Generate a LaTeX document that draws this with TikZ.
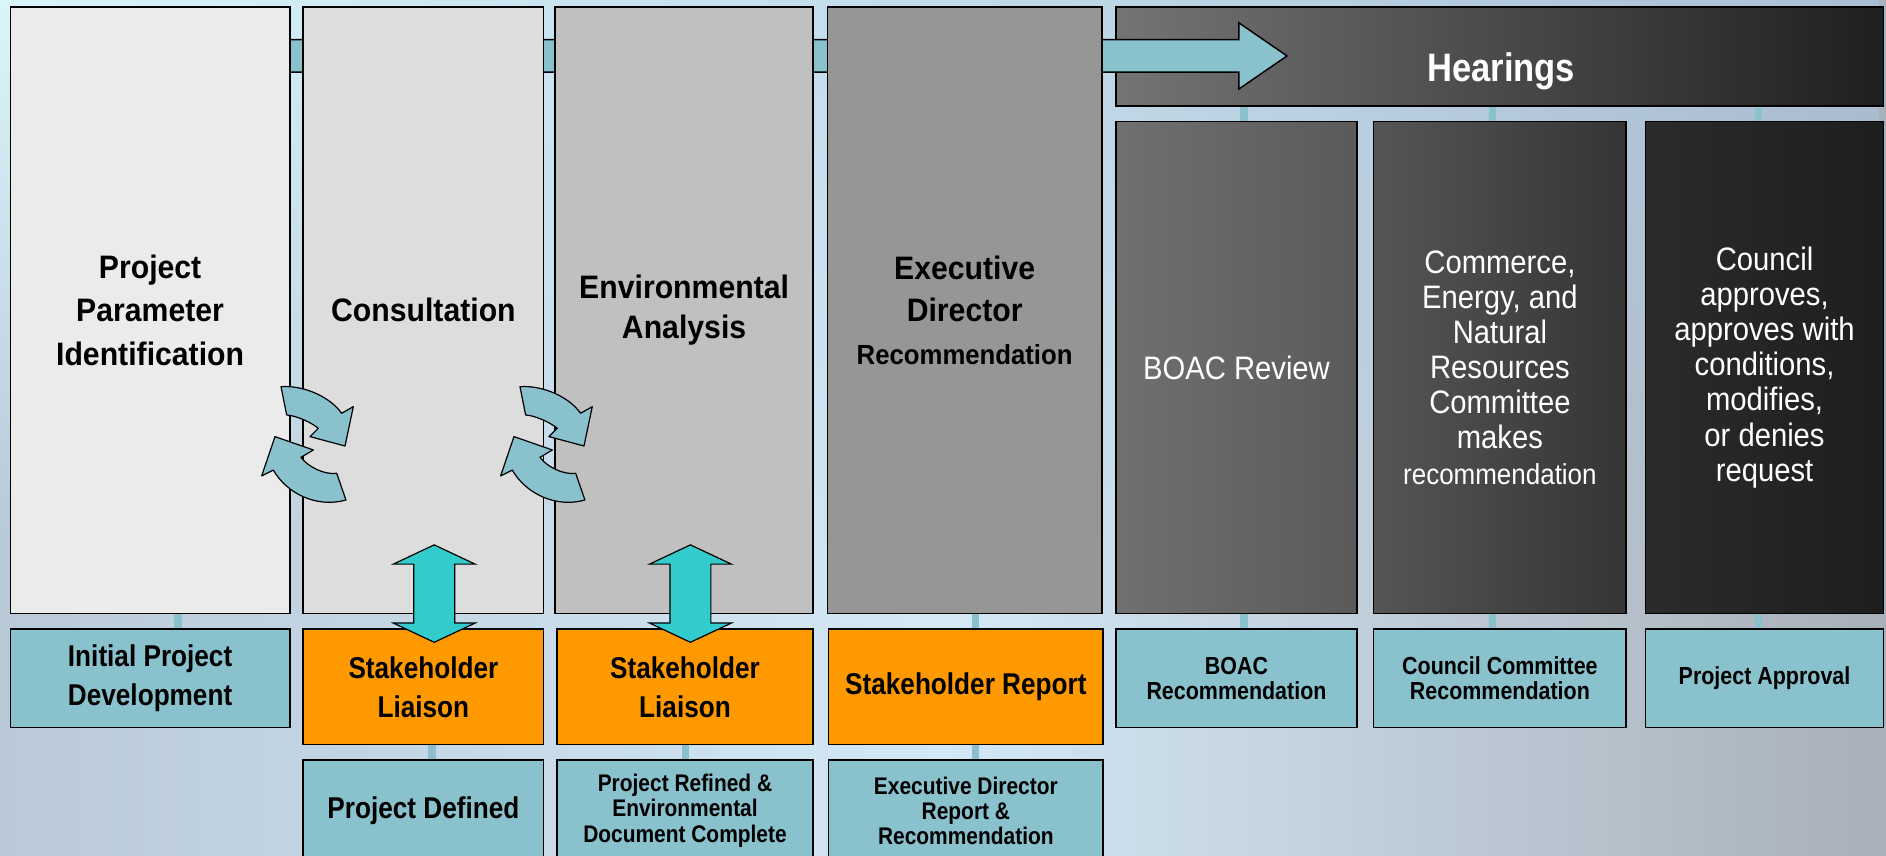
\documentclass[tikz,border=0pt]{standalone}
\usepackage{fontspec}
\setmainfont{Liberation Sans}
\newfontfamily\fTop{Liberation Sans}[FakeStretch=0.93]
\newfontfamily\fReg{Liberation Sans}[FakeStretch=0.90]
\newfontfamily\fBot{Liberation Sans}[FakeStretch=0.87]
\usetikzlibrary{fadings,calc}
\definecolor{tealbox}{HTML}{89C1CD}
\definecolor{orng}{HTML}{FF9900}
\definecolor{cyanarr}{HTML}{33CCCC}
\definecolor{gA}{HTML}{EBEBEB}
\definecolor{gB}{HTML}{DDDDDD}
\definecolor{gC}{HTML}{C0C0C0}
\definecolor{gD}{HTML}{969696}
\definecolor{hL}{HTML}{747474}
\definecolor{hR}{HTML}{1F1F1F}
\definecolor{bA1}{HTML}{707070}
\definecolor{bA2}{HTML}{5A5A5A}
\definecolor{bB1}{HTML}{555555}
\definecolor{bB2}{HTML}{353535}
\definecolor{bC1}{HTML}{2B2B2B}
\definecolor{bC2}{HTML}{1E1E1E}
\definecolor{bg1}{HTML}{B9C9D7}
\definecolor{bg2}{HTML}{D4E8F6}
\definecolor{bg3}{HTML}{A8B0B9}
\definecolor{bgt1}{HTML}{DAF6FC}
\definecolor{bgt2}{HTML}{AABFD6}
\tikzfading[name=fadetop, top color=transparent!0, bottom color=transparent!100]
\pgfdeclarelayer{back}
\pgfdeclarelayer{mid}
\pgfsetlayers{back,mid,main}
\tikzset{
  cycpair/.pic={
    \draw[cyc] (34.1,-22.2) .. controls (52.7,-20.8) and (74.8,-30.5) .. (84.5,-44.3)
      -- (94.2,-38.8) -- (87.3,-71.5) -- (58.2,-63.7) -- (65.1,-56.8)
      .. controls (59.6,-52.1) and (47.1,-46.3) .. (38.8,-45.7) -- cycle;
    \draw[cyc] (88.1,-116.4) .. controls (63.7,-123.3) and (38.8,-110.9) .. (27.7,-91.5)
      -- (18.0,-96.4) -- (29.1,-63.7) -- (61.0,-74.8) -- (50.7,-80.9)
      .. controls (56.8,-89.2) and (70.7,-95.6) .. (80.4,-94.2) -- cycle;
  }
}
\begin{document}
\begin{tikzpicture}[x=1pt,y=1pt,
  colbox/.style={draw=black,line width=1.2pt,inner sep=0pt,align=center},
  bbox/.style={draw=black,line width=1.2pt,inner sep=0pt,align=center,fill=tealbox,
     font=\fBot\bfseries\fontsize{25}{32.5}\selectfont},
  obox/.style={bbox,fill=orng},
  smalltxt/.style={font=\fBot\bfseries\fontsize{20.5}{21}\selectfont},
  stubline/.style={draw=tealbox,line width=6.3pt},
  cyc/.style={fill=tealbox,draw=black,line width=1pt,line join=round},
  dbl/.style={fill=cyanarr,draw=black,line width=1pt},
  bigarr/.style={fill=tealbox,draw=black,line width=1.2pt},
  toptext/.style={font=\fTop\bfseries\fontsize{27}{36.5}\selectfont},
  hrtext/.style={text=white,font=\fReg\fontsize{27}{29.2}\selectfont}]
\useasboundingbox (0,0) rectangle (1568,-711);
\begin{pgfonlayer}{back}
  \shade[left color=bg1, right color=bg3, middle color=bg2] (0,0) rectangle (1568,-711);
  \shade[left color=bgt1, right color=bgt2, path fading=fadetop] (0,0) rectangle (1568,-450);
\end{pgfonlayer}

% hearings bar
\node[draw=black,line width=1.2pt,inner sep=0pt,left color=hL,right color=hR,
      minimum width=638,minimum height=82] (bar) at (1247,-47) {};
\node[anchor=base,text=white,font=\fBot\bfseries\fontsize{33}{40}\selectfont] (hear) at (1248,-68) {Hearings};

% big arrow
\coordinate (arS) at (200,-46.5);
\coordinate (arT) at (1070,-46.5);
\draw[bigarr] ($(arS)+(0,13.5)$) -- ($(arT)+(-40,13.5)$) -- ($(arT)+(-40,27.5)$) -- (arT)
   -- ($(arT)+(-40,-27.5)$) -- ($(arT)+(-40,-13.5)$) -- ($(arS)+(0,-13.5)$) -- cycle;

% main columns
\node[colbox,fill=gA,minimum width=232.4,minimum height=504,toptext] (c1) at (124.8,-258) {Project\\Parameter\\Identification};
\node[colbox,fill=gB,minimum width=200,minimum height=504,toptext] (c2) at (352,-258) {Consultation};
\node[colbox,fill=gC,minimum width=214.5,minimum height=504,toptext,font=\fTop\bfseries\fontsize{27}{33}\selectfont] (c3) at (568.75,-258) {Environmental\\Analysis};
\node[colbox,fill=gD,minimum width=228,minimum height=504,toptext,font=\fTop\bfseries\fontsize{27}{35}\selectfont] (c4) at (802,-258) {Executive\\Director\\{\fontsize{23}{35}\selectfont Recommendation}};

% hearing sub columns
\node[colbox,left color=bA1,right color=bA2,minimum width=200,minimum height=409,hrtext] (boac) at (1028,-305.5) {BOAC Review};
\node[colbox,left color=bB1,right color=bB2,minimum width=210,minimum height=409,hrtext] (comm) at (1247,-305.5) {Commerce,\\Energy, and\\Natural\\Resources\\Committee\\makes\\{\fontsize{24}{29.2}\selectfont recommendation}};
\node[colbox,left color=bC1,right color=bC2,minimum width=198,minimum height=409,hrtext] (coun) at (1467,-305.5) {Council\\approves,\\approves with\\conditions,\\modifies,\\or denies\\request};

% bottom boxes
\node[bbox,minimum width=232.4,minimum height=82] (ipd) at (124.8,-564) {Initial Project\\Development};
\node[obox,minimum width=200,minimum height=96] (sl1) at (352,-571) {Stakeholder\\Liaison};
\node[obox,minimum width=213,minimum height=96] (sl2) at (569.5,-571) {Stakeholder\\Liaison};
\node[obox,minimum width=228,minimum height=96] (sr) at (803,-571) {Stakeholder Report};
\node[bbox,minimum width=200,minimum height=84] (pd) at (352,-674) {Project Defined};
\node[bbox,minimum width=213,minimum height=84,font=\fBot\bfseries\fontsize{20}{21}\selectfont] (prd) at (569.5,-674) {Project Refined \&\\Environmental\\Document Complete};
\node[bbox,minimum width=228,minimum height=84,font=\fBot\bfseries\fontsize{20}{21}\selectfont] (edr) at (803,-674) {Executive Director\\Report \&\\Recommendation};
\node[bbox,minimum width=200,minimum height=82,smalltxt] (brec) at (1028,-564) {BOAC\\Recommendation};
\node[bbox,minimum width=210,minimum height=82,smalltxt] (crec) at (1247,-564) {Council Committee\\Recommendation};
\node[bbox,minimum width=198,minimum height=82,smalltxt] (pa) at (1467,-564) {Project Approval};

% stubs
\coordinate (s1) at (148,0);
\coordinate (s2) at (359,0);
\coordinate (s3) at (570,0);
\coordinate (s4) at (811,0);
\coordinate (s5) at (1034,0);
\coordinate (s6) at (1241,0);
\coordinate (s7) at (1462,0);
\begin{pgfonlayer}{mid}
  \draw[stubline] (c1.south -| s1) -- (ipd.north -| s1);
  \draw[stubline] (c2.south -| s2) -- (sl1.north -| s2);
  \draw[stubline] (sl1.south -| s2) -- (pd.north -| s2);
  \draw[stubline] (c3.south -| s3) -- (sl2.north -| s3);
  \draw[stubline] (sl2.south -| s3) -- (prd.north -| s3);
  \draw[stubline] (c4.south -| s4) -- (sr.north -| s4);
  \draw[stubline] (sr.south -| s4) -- (edr.north -| s4);
  \draw[stubline] (bar.south -| s5) -- (boac.north -| s5);
  \draw[stubline] (boac.south -| s5) -- (brec.north -| s5);
  \draw[stubline] (bar.south -| s6) -- (comm.north -| s6);
  \draw[stubline] (comm.south -| s6) -- (crec.north -| s6);
  \draw[stubline] (bar.south -| s7) -- (coun.north -| s7);
  \draw[stubline] (coun.south -| s7) -- (pa.north -| s7);
\end{pgfonlayer}

% double arrows
\coordinate (d1) at (361,-453);
\coordinate (d2) at (574,-453);
\foreach \d in {d1,d2}{
  \draw[dbl] (\d) -- ++(34,-16) -- ++(-17,0) -- ++(0,-49) -- ++(17,0) -- ++(-34,-16)
     -- ++(-34,16) -- ++(17,0) -- ++(0,49) -- ++(-17,0) -- cycle;
}

% cycle arrows
\pic at (199.53,-299.3) {cycpair};
\pic at (398.2,-299.3) {cycpair};
\end{tikzpicture}
\end{document}
